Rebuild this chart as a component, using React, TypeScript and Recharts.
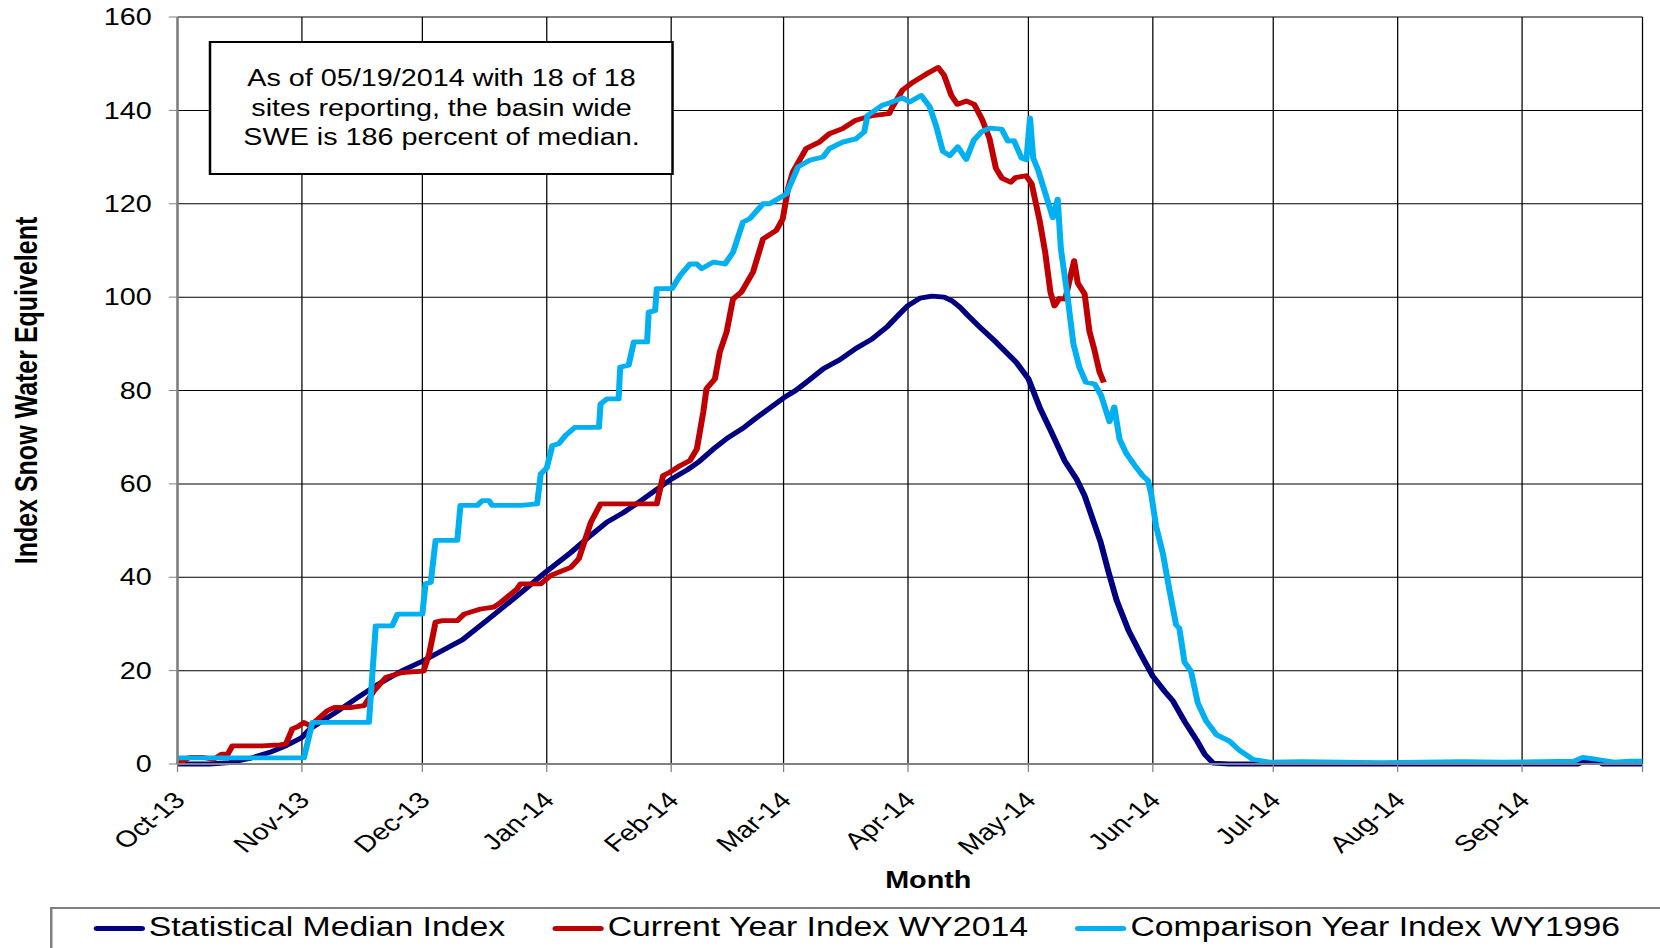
import { LineChart, Line, XAxis, YAxis, CartesianGrid, Legend } from 'recharts';

// day index counted from Oct 1 2013
const monthStarts = [0, 31, 61, 92, 123, 151, 182, 212, 243, 273, 304, 335, 365];
const monthLabels = ['Oct-13', 'Nov-13', 'Dec-13', 'Jan-14', 'Feb-14', 'Mar-14', 'Apr-14', 'May-14', 'Jun-14', 'Jul-14', 'Aug-14', 'Sep-14', ''];
const sweTicks = [0, 20, 40, 60, 80, 100, 120, 140, 160];
const seriesNames = ['Statistical Median Index', 'Current Year Index WY2014', 'Comparison Year Index WY1996'];

// [day, index SWE]
const medianIndex: [number, number][] = [
  [0, 0], [8, 0], [13, 0.3], [18, 1.2], [23, 2.5], [27, 3.9], [31, 5.7], [33, 7.5], [40, 11.4], [45, 14.3],
  [50, 17.1], [56, 20], [61, 22], [66, 24.3], [71, 26.6], [77, 30.7], [81, 33.5], [86, 37], [92, 41.3], [98, 45.3],
  [103, 49], [107, 51.8], [111, 53.8], [115, 56.1], [119, 58.6], [123, 61], [127, 63], [130, 64.8], [134, 67.8],
  [137, 69.8], [141, 72], [144, 74], [148, 76.5], [151, 78.4], [154, 80], [157, 82], [161, 84.7], [165, 86.6],
  [169, 89], [173, 91], [177, 93.8], [180, 96.5], [182, 98.2], [185, 99.8], [188, 100.2], [191, 100], [193, 99.2],
  [195, 97.8], [197, 96], [200, 93.5], [204, 90.3], [209, 86], [212, 82.5], [215, 76], [217.5, 71.5], [221, 65],
  [224, 61], [226, 57.5], [228, 52.5], [230, 47.5], [232, 41], [234, 35], [237, 28.5], [240, 23.5], [243, 18.8],
  [246, 15.5], [248, 13.5], [251, 9], [254, 5], [256, 2], [258, 0.2], [262, 0], [349, 0], [351, 0.8], [354, 0.6],
  [355, 0], [365, 0],
];

const currentYear: [number, number][] = [
  [0, 0], [3, 1.4], [6.5, 1.4], [9, 1], [11, 2.1], [12.5, 2.1], [13.7, 3.9], [21, 3.9], [25.5, 4.1], [27, 4.3],
  [28.6, 7.5], [30, 8], [31.5, 8.9], [33, 8.2], [35, 9.6], [37.3, 11.4], [39, 12.1], [43, 12.1], [46.5, 12.5],
  [49, 15.7], [52, 18.6], [56, 19.6], [61.3, 19.9], [62.7, 23.6], [64.3, 30.4], [66, 30.7], [69.7, 30.7],
  [71.4, 32.1], [75.5, 33.2], [78.8, 33.6], [80.5, 34.6], [84.6, 37.5], [85.5, 38.6], [90.5, 38.6], [93, 40.4],
  [98, 42.1], [100, 44], [103, 51.8], [105.4, 55.7], [119.4, 55.7], [121, 61.8], [122.7, 62.5], [125.2, 63.9],
  [127.7, 65], [129.4, 67.5], [131, 75.4], [131.8, 80.4], [133.9, 82.5], [135.1, 88.2], [136.8, 92.5],
  [138.4, 99.6], [140.5, 101.1], [143.4, 105.4], [145.9, 112.5], [149.2, 114.3], [150.8, 116.8], [152.1, 123.2],
  [153.3, 126.8], [156.6, 131.8], [159.9, 133.2], [162.4, 135], [165.7, 136.1], [169, 137.9], [173.2, 138.9],
  [177.3, 139.3], [178.1, 140.7], [180.6, 144.3], [183.2, 146], [187, 148], [189.5, 149.2], [191, 147.5],
  [192.8, 143.2], [194.3, 141.3], [196.6, 142], [198.5, 141.3], [200.5, 138], [202.3, 134], [203.9, 127.6],
  [205.4, 125.5], [207.6, 124.6], [208.8, 125.6], [211.4, 126], [212.8, 124.3], [214.8, 116.4], [216.2, 109.5],
  [217.5, 101], [218.5, 98.1], [219.7, 99.7], [221.2, 99.6], [222.7, 105.3], [223.4, 107.8], [224.3, 103],
  [226, 100.7], [227.2, 92.7], [228.5, 88.5], [229.7, 84], [230.8, 81.7],
];

const comparisonYear: [number, number][] = [
  [0, 1.3], [31.5, 1.3], [33.6, 8.9], [47.7, 8.9], [49.4, 29.6], [53.5, 29.6], [54.8, 32.1], [61, 32.1],
  [61.8, 38.6], [63.1, 38.9], [64.3, 47.9], [69.7, 47.9], [70.5, 55.4], [74.7, 55.4], [75.9, 56.4], [77.6, 56.4],
  [78.4, 55.4], [85.5, 55.4], [89.6, 55.7], [90.5, 62.1], [92, 63.4], [93.4, 68.2], [95, 68.6], [96.7, 70.4],
  [99, 72.1], [105, 72.1], [105.4, 77.1], [107, 78.2], [109.9, 78.2], [110.3, 85], [112.4, 85.4], [113.7, 90.4],
  [117, 90.4], [117.4, 96.8], [119, 97.1], [119.4, 101.8], [123.2, 101.8], [125.2, 104.6], [127.7, 107.1],
  [129.4, 107.1], [130.6, 106.1], [133.5, 107.5], [136.4, 107.1], [138.4, 109.6], [140.9, 116.1], [142.6, 116.8],
  [145.9, 120], [147.5, 120], [151.7, 122.1], [154.6, 127.9], [157.5, 129.3], [160.8, 130], [162.4, 131.8],
  [165.7, 133.2], [169, 133.9], [171.1, 135.4], [171.9, 138.9], [175.6, 141.1], [178.1, 141.8], [180.6, 142.7],
  [182.4, 141.8], [185.3, 143.2], [187.4, 140.8], [189.1, 136.4], [190.7, 131.2], [192.4, 130.3], [194.4, 132.2],
  [196.5, 129.5], [198.4, 133.6], [200.3, 135.4], [202.3, 136.2], [205.3, 136], [206.9, 133.4], [208.4, 133.5],
  [210.3, 129.8], [211.5, 129.4], [212.4, 138.4], [213.2, 129.8], [214.5, 127], [216, 122.8], [218.1, 117],
  [219.3, 121], [220.1, 110.3], [221.7, 100.5], [223.2, 90], [224.7, 85], [226.3, 81.8], [228.5, 81.4],
  [230.1, 79], [232.2, 73.3], [233.4, 76.5], [234.7, 69.6], [236.4, 66.5], [238.8, 63.6], [240.5, 61.7],
  [241.8, 60.7], [242.6, 57.8], [243.8, 51], [245.5, 45.1], [247.1, 37.4], [248.8, 29.8], [249.6, 29.1],
  [250.9, 21.8], [252.5, 19.9], [254.2, 13.1], [256.3, 9.2], [258.8, 6.3], [262.1, 4.9], [264.6, 2.9],
  [267.9, 1], [272, 0.4], [280, 0.5], [300, 0.3], [320, 0.5], [330, 0.4], [340, 0.5], [348, 0.6], [350, 1.4],
  [352, 1.2], [355, 0.8], [358, 0.4], [362, 0.6], [365, 0.6],
];

const toRows = (points: [number, number][]) => points.map(([day, swe]) => ({ day, swe }));

const FONT = "'Liberation Sans', Arial, Helvetica, sans-serif";
// the original picture is stretched sideways, so the whole chart is too
const STRETCH = 1.25;
const W = 1328;
const H = 948;
const LINE_W = 4.8;

function MonthTick(props: any) {
  const { x, y, payload } = props;
  const label = monthLabels[monthStarts.indexOf(payload.value)] || '';
  if (!label) return <g />;
  return (
    <text
      transform={`translate(${x + 1.6},${y + 22}) rotate(-45)`}
      textAnchor="end"
      dy="0.35em"
      fontSize={23}
      fill="#000"
    >
      {label}
    </text>
  );
}

function yTitle(props: any) {
  const { x, y, height } = props.viewBox;
  const cx = x + 20.8;
  const cy = y + height / 2;
  return (
    <text
      x={cx}
      y={cy}
      transform={`rotate(-90 ${cx} ${cy})`}
      textAnchor="middle"
      dy="0.35em"
      fontSize={25}
      fontWeight="bold"
      fill="#000"
    >
      Index Snow Water Equivelent
    </text>
  );
}

function xTitle(props: any) {
  const { x, y, width } = props.viewBox;
  return (
    <text x={x + width / 2 + 14.6} y={y + 124} textAnchor="middle" fontSize={23} fontWeight="bold" fill="#000">
      Month
    </text>
  );
}

function LegendBox(props: any) {
  const items = [...(props.payload || [])].sort(
    (a: any, b: any) => seriesNames.indexOf(a.value) - seriesNames.indexOf(b.value),
  );
  return (
    <div
      style={{
        boxSizing: 'border-box',
        height: 60,
        border: '2px solid #808080',
        background: '#fff',
        display: 'flex',
        alignItems: 'flex-start',
        gap: 38,
        paddingLeft: 32.7,
        paddingTop: 3.4,
      }}
    >
      {items.map((entry: any) => (
        <div key={entry.value} style={{ display: 'flex', alignItems: 'center', fontSize: 27, lineHeight: '30px', color: '#000' }}>
          <span style={{ width: 41, height: 5, marginTop: 2, marginRight: 3, borderRadius: 3, background: entry.color }} />
          <span>{entry.value}</span>
        </div>
      ))}
    </div>
  );
}

export default function App() {
  return (
    <div
      style={{
        position: 'absolute',
        left: 0,
        top: 0,
        width: W,
        height: H,
        overflow: 'hidden',
        background: '#fff',
        fontFamily: FONT,
        transform: `scaleX(${STRETCH})`,
        transformOrigin: '0 0',
      }}
    >
      <LineChart width={W} height={H} margin={{ top: 17, right: 14, bottom: 54, left: 0 }}>
        <CartesianGrid stroke="#000" strokeWidth={1} />
        <XAxis
          type="number"
          dataKey="day"
          domain={[0, 365]}
          ticks={monthStarts}
          interval={0}
          height={130}
          tickSize={8}
          tickMargin={2}
          axisLine={{ stroke: '#808080', strokeWidth: 2 }}
          tickLine={{ stroke: '#808080' }}
          tick={(p: any) => <MonthTick {...p} />}
          label={xTitle}
        />
        <YAxis
          type="number"
          domain={[0, 160]}
          ticks={sweTicks}
          interval={0}
          width={142}
          tickSize={7}
          tickMargin={13.6}
          axisLine={{ stroke: '#808080', strokeWidth: 2 }}
          tickLine={{ stroke: '#808080' }}
          tick={{ fill: '#000', fontSize: 23 }}
          label={yTitle}
        />
        <Legend
          layout="horizontal"
          verticalAlign="middle"
          align="center"
          content={<LegendBox />}
          wrapperStyle={{ left: 40.3, top: 907, width: 1310, height: 60 }}
        />
        <Line
          data={toRows(medianIndex)}
          dataKey="swe"
          name={seriesNames[0]}
          type="linear"
          stroke="#000080"
          strokeWidth={LINE_W}
          strokeLinejoin="round"
          dot={false}
          activeDot={false}
          isAnimationActive={false}
        />
        <Line
          data={toRows(currentYear)}
          dataKey="swe"
          name={seriesNames[1]}
          type="linear"
          stroke="#C00000"
          strokeWidth={LINE_W}
          strokeLinejoin="round"
          dot={false}
          activeDot={false}
          isAnimationActive={false}
        />
        <Line
          data={toRows(comparisonYear)}
          dataKey="swe"
          name={seriesNames[2]}
          type="linear"
          stroke="#00B0F0"
          strokeWidth={LINE_W}
          strokeLinejoin="round"
          dot={false}
          activeDot={false}
          isAnimationActive={false}
        />
      </LineChart>
      <div
        style={{
          position: 'absolute',
          left: 167.2,
          top: 41,
          width: 372,
          height: 134,
          boxSizing: 'border-box',
          border: '2px solid #000',
          background: '#fff',
          textAlign: 'center',
          fontSize: 23,
          lineHeight: '29.5px',
          paddingTop: 21,
          color: '#000',
        }}
      >
        <div>As of 05/19/2014 with 18 of 18</div>
        <div>sites reporting, the basin wide</div>
        <div>SWE is 186 percent of median.</div>
      </div>
    </div>
  );
}
